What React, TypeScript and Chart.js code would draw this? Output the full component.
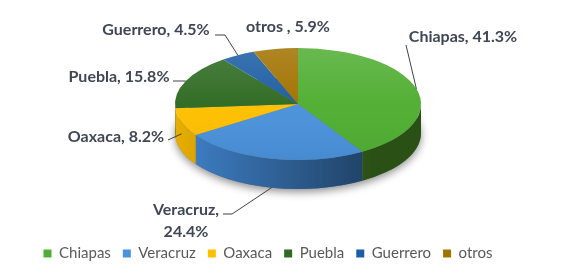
import React, { useEffect, useRef } from 'react';
import { Chart, registerables } from 'chart.js';

Chart.register(...registerables);

// ---- data ----
const categories = ['Chiapas', 'Veracruz', 'Oaxaca', 'Puebla', 'Guerrero', 'otros'];
const shares = [41.3, 24.4, 8.2, 15.8, 4.5, 5.9];
const labelSeparators = [', ', ',\n', ', ', ', ', ', ', ' , '];

// ---- styles ----
const topColors = ['#50AE32', '#4A92DB', '#FFC000', '#2F6B23', '#1D5DA3', '#A27200'];
const sideColors = ['#54A02C', '#3F82CA', '#E8AE00', '#28591C', '#174C86', '#805A00'];
const LABEL_COLOR = '#3f4655';
const LABEL_FONT = 'bold 16px Lato, sans-serif';

// ---- 3D projection layout ----
const PIE = { cx: 298, cy: 104, rx: 123, ry: 56, depth: 29 };
// label layout: text centre, leader path start points, and how far down the wall the leader ends
const LABEL_POS: [number, number][] = [[463, 37], [186, 210], [116, 137], [119, 77], [156, 30], [288, 27]];
const LEADERS: ([number, number][] | null)[] = [
  [[406, 45]],
  [[223, 214], [232, 214]],
  [[168, 140]],
  [[173, 81], [183, 81]],
  [[215, 35], [225, 35]],
  null,
];
const LEADER_DEPTH = [0, 1, 0.4, 0, 0, 0];

const pie3d = {
  id: 'pie3d',
  beforeDatasetsDraw(chart: any) {
    const ctx: CanvasRenderingContext2D = chart.ctx;
    const meta = chart.getDatasetMeta(0);
    const arcs = meta.data;
    if (!arcs.length) return;
    const { cx, cy, rx, ry, depth } = PIE;
    ctx.save();
    // shadow under the pie
    ctx.save();
    ctx.shadowColor = 'rgba(0,0,0,0.45)';
    ctx.shadowBlur = 9;
    ctx.shadowOffsetY = 3;
    ctx.fillStyle = '#777';
    ctx.beginPath();
    ctx.ellipse(cx, cy + depth, rx, ry, 0, 0, Math.PI * 2);
    ctx.fill();
    ctx.restore();
    // side walls
    const shade = ctx.createLinearGradient(cx - rx, 0, cx + rx, 0);
    shade.addColorStop(0, 'rgba(0,0,0,0)');
    shade.addColorStop(0.8, 'rgba(0,0,0,0.5)');
    shade.addColorStop(1, 'rgba(0,0,0,0.5)');
    arcs.forEach((arc: any, i: number) => {
      const { startAngle, endAngle } = arc.getProps(['startAngle', 'endAngle'], true);
      const a1 = Math.max(startAngle, 0);
      const a2 = Math.min(endAngle, Math.PI);
      if (a2 <= a1) return;
      const path = () => {
        ctx.beginPath();
        ctx.ellipse(cx, cy, rx, ry, 0, a1, a2, false);
        ctx.lineTo(cx + rx * Math.cos(a2), cy + ry * Math.sin(a2) + depth);
        ctx.ellipse(cx, cy + depth, rx, ry, 0, a2, a1, true);
        ctx.closePath();
      };
      path();
      ctx.fillStyle = sideColors[i];
      ctx.fill();
      path();
      ctx.fillStyle = shade;
      ctx.fill();
    });
    // project the library's circular arcs onto the ellipse
    const a0 = arcs[0];
    const r = a0.outerRadius;
    ctx.translate(cx, cy);
    ctx.scale(rx / r, ry / r);
    ctx.translate(-a0.x, -a0.y);
  },
  afterDatasetsDraw(chart: any) {
    const ctx: CanvasRenderingContext2D = chart.ctx;
    const arcs = chart.getDatasetMeta(0).data;
    if (!arcs.length) return;
    const a0 = arcs[0];
    const r = a0.outerRadius;
    const g = ctx.createLinearGradient(0, a0.y - r, 0, a0.y + r);
    g.addColorStop(0, 'rgba(255,255,255,0.14)');
    g.addColorStop(0.5, 'rgba(255,255,255,0.02)');
    g.addColorStop(1, 'rgba(0,0,0,0.05)');
    ctx.beginPath();
    ctx.arc(a0.x, a0.y, r, 0, Math.PI * 2);
    ctx.fillStyle = g;
    ctx.fill();
    ctx.restore();
  },
  afterDraw(chart: any) {
    const ctx: CanvasRenderingContext2D = chart.ctx;
    const arcs = chart.getDatasetMeta(0).data;
    const { cx, cy, rx, ry, depth } = PIE;
    ctx.save();
    ctx.font = LABEL_FONT;
    ctx.fillStyle = LABEL_COLOR;
    ctx.textAlign = 'center';
    ctx.textBaseline = 'middle';
    arcs.forEach((arc: any, i: number) => {
      const { startAngle, endAngle } = arc.getProps(['startAngle', 'endAngle'], true);
      const mid = (startAngle + endAngle) / 2;
      const text = categories[i] + labelSeparators[i] + shares[i].toFixed(1) + '%';
      const lines = text.split('\n');
      const [lx, ly] = LABEL_POS[i];
      lines.forEach((ln, k) => ctx.fillText(ln, lx, ly + k * 22));
      const leader = LEADERS[i];
      if (leader) {
        const ex = cx + rx * Math.cos(mid);
        const ey = cy + ry * Math.sin(mid) + depth * LEADER_DEPTH[i];
        ctx.beginPath();
        ctx.moveTo(leader[0][0], leader[0][1]);
        for (let k = 1; k < leader.length; k++) ctx.lineTo(leader[k][0], leader[k][1]);
        ctx.lineTo(ex, ey);
        ctx.strokeStyle = '#404040';
        ctx.lineWidth = 1;
        ctx.stroke();
      }
    });
    ctx.restore();
  },
};

export default function App() {
  const ref = useRef<HTMLCanvasElement>(null);
  useEffect(() => {
    if (!ref.current) return;
    const chart = new Chart(ref.current, {
      type: 'pie',
      data: {
        labels: categories,
        datasets: [
          {
            data: shares,
            backgroundColor: topColors,
            borderWidth: 0,
            clip: false,
          } as any,
        ],
      },
      options: {
        animation: false,
        responsive: true,
        maintainAspectRatio: false,
        events: [],
        layout: { padding: { left: 0, right: 47, top: 0, bottom: 2 } },
        plugins: {
          legend: {
            position: 'bottom',
            labels: {
              boxWidth: 8,
              boxHeight: 8,
              padding: 12,
              color: '#595959',
              font: { family: 'Lato, sans-serif', size: 15 },
            },
          },
          tooltip: { enabled: false },
        },
      },
      plugins: [pie3d],
    });
    return () => chart.destroy();
  }, []);
  return (
    <div style={{ position: 'fixed', left: 0, top: 0, width: 583, height: 273, background: '#fff' }}>
      <canvas ref={ref} />
    </div>
  );
}
